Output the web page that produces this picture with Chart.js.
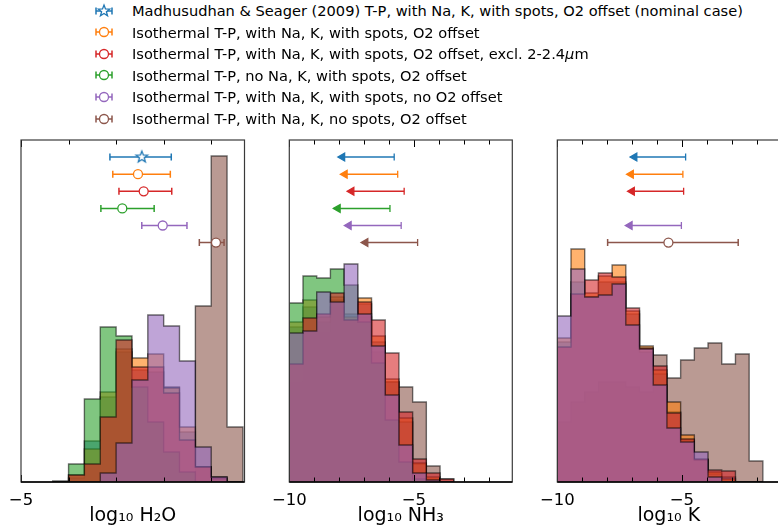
<!DOCTYPE html>
<html>
<head>
<meta charset="utf-8">
<script src="https://cdn.jsdelivr.net/npm/chart.js@4/dist/chart.umd.min.js"></script>
<style>
  html, body { margin: 0; padding: 0; background: #fff; }
  body { width: 778px; height: 528px; overflow: hidden; position: relative; font-family: "DejaVu Sans", sans-serif; }
  canvas.panel { position: absolute; top: 130px; }
  .leg-row { position: absolute; left: 92px; height: 20px; display: flex; align-items: center; font-size: 14.6px; color: #000; white-space: nowrap; }
  .leg-row canvas { margin-right: 16px; }
</style>
</head>
<body>
<div id="legend"></div>
<canvas id="h2o" class="panel" width="268" height="398" style="left:0px"></canvas>
<canvas id="nh3" class="panel" width="268" height="398" style="left:268px"></canvas>
<canvas id="k" class="panel" width="268" height="398" style="left:536px"></canvas>
<script>
// retrieval cases, legend order
const caseLabels = [
  'Madhusudhan &amp; Seager (2009) T-P, with Na, K, with spots, O2 offset (nominal case)',
  'Isothermal T-P, with Na, K, with spots, O2 offset',
  'Isothermal T-P, with Na, K, with spots, O2 offset, excl. 2-2.4<i>μ</i>m',
  'Isothermal T-P, no Na, K, with spots, O2 offset',
  'Isothermal T-P, with Na, K, with spots, no O2 offset',
  'Isothermal T-P, with Na, K, no spots, O2 offset'
];
const caseColors = ['#1f77b4', '#ff7f0e', '#d62728', '#2ca02c', '#9467bd', '#8c564b'];
// histograms stack brown, blue, orange, green, red, purple (higher order = further back)
const histOrder = [5, 4, 2, 3, 1, 6];
const errRows = [1, 2, 3, 4, 5, 6];

// log10 H2O posterior histograms (bin edges, counts per case)
const h2oEdges = [-4.333, -4.0, -3.667, -3.333, -3.0, -2.667, -2.333, -2.0, -1.667, -1.333, -1.0, -0.667, -0.333];
const h2oCounts = [
  [0, 4, 41, 85, 130, 112, 110, 95, 50, 15, 4, 0],
  [0, 7, 33, 90, 133, 124, 128, 94, 55, 15, 3, 0],
  [0, 7, 18, 65, 142, 115, 115, 89, 42, 15, 5, 0],
  [1, 18, 83, 155, 146, 95, 60, 30, 10, 0, 0, 0],
  [0, 0, 0, 9, 39, 102, 167, 156, 121, 35, 5, 0],
  [0, 0, 0, 0, 0, 0, 0, 0, 2, 176, 326, 55]
];
const h2oMedian = [-2.46, -2.54, -2.42, -2.87, -2.02, -0.90];
const h2oLow = [-3.13, -3.07, -2.94, -3.32, -2.46, -1.25];
const h2oHigh = [-1.84, -1.86, -1.83, -2.20, -1.51, -0.73];

// log10 NH3: only upper limits
const nh3Edges = [-10, -9.45, -8.9, -8.35, -7.8, -7.25, -6.7, -6.15, -5.6, -5.05, -4.5, -3.95, -3.4];
const nh3Counts = [
  [155, 175, 160, 182, 168, 178, 140, 100, 60, 18, 3, 0],
  [160, 182, 165, 185, 165, 184, 146, 103, 64, 19, 5, 0],
  [118, 164, 168, 189, 162, 180, 162, 129, 70, 23, 9, 3],
  [179, 206, 204, 213, 197, 160, 119, 62, 20, 3, 0, 0],
  [149, 151, 190, 180, 218, 168, 136, 87, 37, 9, 2, 0],
  [100, 150, 150, 175, 160, 165, 130, 100, 95, 80, 16, 3]
];
const nh3Upper = [-5.79, -5.65, -5.39, -5.96, -5.51, -4.85];
const nh3ArrowEnd = [-7.87, -7.77, -7.50, -8.05, -7.61, -6.94];

// log10 K (no K in the "no Na, K" case)
const kEdges = [-10, -9.45, -8.9, -8.35, -7.8, -7.25, -6.7, -6.15, -5.6, -5.05, -4.5, -3.95, -3.4, -2.85, -2.3, -1.75];
const kCounts = [
  [140, 200, 185, 200, 200, 168, 130, 108, 70, 42, 22, 8, 5, 0, 0],
  [144, 233, 189, 206, 217, 171, 136, 112, 80, 47, 22, 10, 3, 0, 0],
  [135, 188, 202, 209, 205, 174, 134, 116, 69, 43, 23, 12, 11, 0, 0],
  null,
  [166, 213, 185, 187, 198, 157, 133, 97, 54, 40, 30, 5, 0, 0, 0],
  [60, 80, 90, 100, 100, 95, 90, 127, 104, 122, 134, 139, 118, 128, 21]
];
const kUpper = [-4.85, -4.96, -4.93, null, -5.02, null];
const kArrowEnd = [-6.90, -7.04, -7.00, null, -7.09, null];
const kMedian = [null, null, null, null, null, -5.54];
const kLow = [null, null, null, null, null, -7.98];
const kHigh = [null, null, null, null, null, -2.74];

function rgba(hex, a) {
  const n = parseInt(hex.slice(1), 16);
  return `rgba(${n >> 16},${(n >> 8) & 255},${n & 255},${a})`;
}

function makeStar(color, r) {
  const c = document.createElement('canvas');
  c.width = c.height = Math.ceil(2 * r + 4);
  const g = c.getContext('2d');
  const cx = c.width / 2, cy = c.height / 2;
  g.beginPath();
  for (let i = 0; i < 10; i++) {
    const rad = i % 2 ? r * 0.42 : r;
    const ang = -Math.PI / 2 + i * Math.PI / 5;
    g.lineTo(cx + rad * Math.cos(ang), cy + rad * Math.sin(ang));
  }
  g.closePath();
  g.fillStyle = '#fff';
  g.fill();
  g.strokeStyle = color;
  g.lineWidth = 1.3;
  g.stroke();
  return c;
}

function histDataset(edges, counts, i) {
  const pts = [{x: edges[0], y: 0}];
  counts.forEach((c, b) => pts.push({x: edges[b], y: c}));
  pts.push({x: edges[counts.length], y: 0});
  return {
    data: pts, showLine: true, stepped: true, fill: 'origin',
    backgroundColor: rgba(caseColors[i], 0.6),
    borderColor: 'rgba(0,0,0,0.55)', borderWidth: 1.4,
    pointRadius: 0, order: histOrder[i], yAxisID: 'y'
  };
}

function barDatasets(i, lo, hi, mid) {
  const col = caseColors[i];
  return [{
    data: [{x: lo, y: errRows[i]}, {x: hi, y: errRows[i]}],
    showLine: true, borderColor: col, borderWidth: 1.5,
    pointStyle: 'line', pointRotation: 90, pointRadius: 3.5,
    pointBorderColor: col, pointBorderWidth: 1.5, order: 0, yAxisID: 'y2'
  }, {
    data: [{x: mid, y: errRows[i]}],
    pointStyle: i === 0 ? makeStar(col, 6) : 'circle', pointRadius: 4.5,
    pointBackgroundColor: '#fff', pointBorderColor: col, pointBorderWidth: 1.3,
    order: -1, yAxisID: 'y2'
  }];
}

function limitDataset(i, end, cap) {
  const col = caseColors[i];
  return {
    data: [{x: end, y: errRows[i]}, {x: cap, y: errRows[i]}],
    showLine: true, borderColor: col, borderWidth: 1.5,
    pointStyle: ['triangle', 'line'], pointRotation: [-90, 90], pointRadius: [4.5, 3.5],
    pointBackgroundColor: col, pointBorderColor: col, pointBorderWidth: 1.3,
    order: 0, yAxisID: 'y2'
  };
}

// inward minor/major ticks on top and bottom, plus the axes frame
const framePlugin = {
  id: 'frame',
  afterDatasetsDraw(chart) {
    const {ctx, chartArea: a} = chart;
    const x = chart.scales.x;
    ctx.save();
    ctx.strokeStyle = '#000';
    ctx.lineWidth = 1;
    for (let v = Math.ceil(x.min); v <= x.max; v++) {
      const px = Math.round(x.getPixelForValue(v)) + 0.5;
      const len = v % 5 === 0 ? 7 : 4.5;
      ctx.beginPath();
      ctx.moveTo(px, a.bottom); ctx.lineTo(px, a.bottom - len);
      ctx.moveTo(px, a.top); ctx.lineTo(px, a.top + len);
      ctx.stroke();
    }
    ctx.strokeStyle = '#3a3a3a';
    ctx.lineWidth = 1.2;
    ctx.strokeRect(a.left, a.top, a.width, a.height);
    ctx.strokeStyle = '#000';
    ctx.lineWidth = 1.6;
    ctx.beginPath(); ctx.moveTo(a.left, a.bottom); ctx.lineTo(a.right, a.bottom); ctx.stroke();
    ctx.restore();
  }
};

function makePanel(id, xmin, xmax, padLeft, plotWidth, title, datasets) {
  new Chart(document.getElementById(id), {
    type: 'scatter',
    data: {datasets},
    options: {
      responsive: false, animation: false, events: [],
      layout: {padding: {left: padLeft, right: 268 - padLeft - plotWidth, top: 10, bottom: 0}},
      plugins: {legend: {display: false}, tooltip: {enabled: false}},
      scales: {
        x: {
          type: 'linear', min: xmin, max: xmax,
          grid: {display: false}, border: {display: false},
          ticks: {
            stepSize: 5, autoSkip: false, maxRotation: 0, padding: 1,
            color: '#000', font: {family: 'DejaVu Sans', size: 16.5},
            callback: v => (Math.abs(v % 5) < 1e-9 ? (v < 0 ? '\u2212' : '') + Math.abs(v) : '')
          },
          title: {display: true, text: title, color: '#000', font: {family: 'DejaVu Sans', size: 19}, padding: {top: 0, bottom: 1}},
          afterFit: s => { s.height = 46; }
        },
        y: {display: false, min: 0, max: 342},
        y2: {display: false, min: 0, max: 20, reverse: true}
      }
    },
    plugins: [framePlugin]
  });
}

// H2O panel
let ds = [];
h2oCounts.forEach((c, i) => ds.push(histDataset(h2oEdges, c, i)));
h2oMedian.forEach((m, i) => ds.push(...barDatasets(i, h2oLow[i], h2oHigh[i], m)));
makePanel('h2o', -5, -0.3, 21, 223.5, 'log\u2081\u2080 H\u2082O', ds);

// NH3 panel
ds = [];
nh3Counts.forEach((c, i) => ds.push(histDataset(nh3Edges, c, i)));
nh3Upper.forEach((u, i) => ds.push(limitDataset(i, nh3ArrowEnd[i], u)));
makePanel('nh3', -10, -1.05, 21.3, 223, 'log\u2081\u2080 NH\u2083', ds);

// K panel
ds = [];
kCounts.forEach((c, i) => { if (c) ds.push(histDataset(kEdges, c, i)); });
kUpper.forEach((u, i) => { if (u !== null) ds.push(limitDataset(i, kArrowEnd[i], u)); });
kMedian.forEach((m, i) => { if (m !== null) ds.push(...barDatasets(i, kLow[i], kHigh[i], m)); });
makePanel('k', -10, -1.05, 21.3, 223, 'log\u2081\u2080 K', ds);

// legend
const legend = document.getElementById('legend');
caseLabels.forEach((label, i) => {
  const row = document.createElement('div');
  row.className = 'leg-row';
  row.style.top = (0.5 + i * 21.6) + 'px';
  const icon = document.createElement('canvas');
  icon.width = 24; icon.height = 20;
  const g = icon.getContext('2d');
  const col = caseColors[i];
  g.strokeStyle = col; g.lineWidth = 1.5;
  g.beginPath();
  g.moveTo(4, 10); g.lineTo(20, 10);
  g.moveTo(4, 6.5); g.lineTo(4, 13.5);
  g.moveTo(20, 6.5); g.lineTo(20, 13.5);
  g.stroke();
  if (i === 0) {
    const s = makeStar(col, 6);
    g.drawImage(s, 12 - s.width / 2, 10 - s.height / 2);
  } else {
    g.beginPath(); g.arc(12, 10, 4.5, 0, Math.PI * 2);
    g.fillStyle = '#fff'; g.fill();
    g.lineWidth = 1.3; g.stroke();
  }
  row.appendChild(icon);
  const txt = document.createElement('span');
  txt.innerHTML = label;
  row.appendChild(txt);
  legend.appendChild(row);
});
</script>
</body>
</html>
